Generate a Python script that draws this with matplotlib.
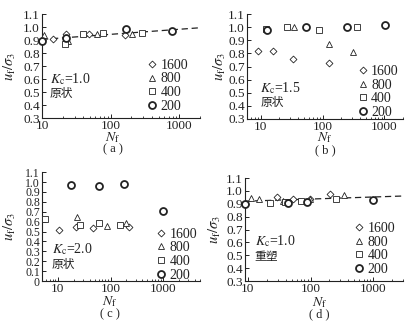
import numpy as np
import matplotlib.pyplot as plt
from matplotlib.ticker import FixedLocator, LogLocator, NullFormatter

plt.rcParams['font.family'] = ['Liberation Serif', 'Noto Sans CJK SC']
plt.rcParams['mathtext.fontset'] = 'stix'

# series labels (confining pressure groups) and their markers
SERIES = ['1600', '800', '400', '200']
MARKERS = ['D', '^', 's', 'o']
MSIZES = [3.5, 4.6, 4.2, 5.0]
MEW = [0.6, 0.6, 0.6, 1.3]

# (a) Kc=1.0, undisturbed
A_N_1600 = [14.5, 22.7, 47.5, 164]
A_U_1600 = [0.91, 0.95, 0.945, 0.94]
A_N_800 = [10.7, 23.5, 63, 202]
A_U_800 = [0.94, 0.89, 0.95, 0.945]
A_N_400 = [21.5, 40, 76, 288]
A_U_400 = [0.87, 0.945, 0.955, 0.955]
A_N_200 = [10, 22.3, 167, 782]
A_U_200 = [0.895, 0.915, 0.985, 0.97]

# (b) Kc=1.5, undisturbed
B_N_1600 = [8.9, 15.6, 33, 125]
B_U_1600 = [0.815, 0.82, 0.76, 0.725]
B_N_800 = [34.2, 127, 310]
B_U_800 = [1.0, 0.87, 0.81]
B_N_400 = [12.3, 26.4, 86, 365]
B_U_400 = [0.985, 1.0, 0.98, 1.0]
B_N_200 = [12.7, 54.4, 251, 1015]
B_U_200 = [0.98, 1.005, 1.0, 1.02]

# (c) Kc=2.0, undisturbed
C_N_1600 = [10.4, 21.8, 46, 220]
C_U_1600 = [0.52, 0.545, 0.535, 0.55]
C_N_800 = [23.4, 87, 199]
C_U_800 = [0.65, 0.555, 0.585]
C_N_400 = [5.6, 26.7, 60, 150]
C_U_400 = [0.63, 0.565, 0.585, 0.565]
C_N_200 = [17.5, 60.4, 180, 970]
C_U_200 = [0.965, 0.955, 0.975, 0.71]

# (d) Kc=1.0, remoulded
D_N_1600 = [29.2, 53.4, 97, 202]
D_U_1600 = [0.955, 0.94, 0.935, 0.975]
D_N_800 = [11.1, 15, 35.8, 97.5, 340]
D_U_800 = [0.945, 0.94, 0.925, 0.94, 0.965]
D_N_400 = [22.9, 38.5, 70, 257]
D_U_400 = [0.91, 0.915, 0.925, 0.935]
D_N_200 = [9, 43.4, 86.6, 1000]
D_U_200 = [0.90, 0.91, 0.915, 0.93]

# trend lines u = a + b*log10(N)
A_FIT = (0.866, 0.039)
D_FIT = (0.905, 0.016)

PANELS = [
    dict(rect=[0.101, 0.6435, 0.380, 0.314], xlim=(10, 2000), ylim=(0.3, 1.1), ysize=9.5,
         data=[(A_N_1600, A_U_1600), (A_N_800, A_U_800), (A_N_400, A_U_400), (A_N_200, A_U_200)],
         fit=A_FIT, kc=r'$K_{\rm c}$=1.0', state='原状', tag='( a )',
         leg=(0.665, 0.57), txt=(0.05, 0.375, 0.235), ylab=-0.155, xlab=(0.45, -0.185, -0.305)),
    dict(rect=[0.594, 0.6405, 0.375, 0.317], xlim=(6, 2000), ylim=(0.3, 1.1), ysize=9.5,
         data=[(B_N_1600, B_U_1600), (B_N_800, B_U_800), (B_N_400, B_U_400), (B_N_200, B_U_200)],
         fit=None, kc=r'$K_{\rm c}$=1.5', state='原状', tag='( b )',
         leg=(0.71, 0.515), txt=(0.085, 0.295, 0.157), ylab=-0.12, xlab=(0.50, -0.18, -0.295)),
    dict(rect=[0.101, 0.151, 0.380, 0.329], xlim=(5, 5000), ylim=(0, 1.1), ysize=8.5,
         data=[(C_N_1600, C_U_1600), (C_N_800, C_U_800), (C_N_400, C_U_400), (C_N_200, C_U_200)],
         fit=None, kc=r'$K_{\rm c}$=2.0', state='原状', tag='( c )',
         leg=(0.725, 0.49), txt=(0.06, 0.295, 0.153), ylab=-0.155, xlab=(0.43, -0.19, -0.305)),
    dict(rect=[0.589, 0.151, 0.380, 0.311], xlim=(9, 3000), ylim=(0.3, 1.1), ysize=9.5,
         data=[(D_N_1600, D_U_1600), (D_N_800, D_U_800), (D_N_400, D_U_400), (D_N_200, D_U_200)],
         fit=D_FIT, kc=r'$K_{\rm c}$=1.0', state='重塑', tag='( d )',
         leg=(0.69, 0.575), txt=(0.06, 0.385, 0.237), ylab=-0.14, xlab=(0.47, -0.205, -0.322)),
]

INK = '#222222'
fig = plt.figure(figsize=(4.16, 3.31), dpi=100)

for p in PANELS:
    ax = fig.add_axes(p['rect'])
    ax.set_xscale('log')
    ax.set_xlim(*p['xlim'])
    ax.set_ylim(*p['ylim'])

    for (n, u), lab, m, ms, mew in zip(p['data'], SERIES, MARKERS, MSIZES, MEW):
        ax.plot(n, u, linestyle='none', marker=m, markersize=ms, markerfacecolor='white',
                markeredgecolor=INK, markeredgewidth=mew, label=lab, clip_on=False, zorder=3)

    if p['fit'] is not None:
        a, b = p['fit']
        xs = np.logspace(np.log10(p['xlim'][0]), np.log10(p['xlim'][1]), 50)
        ax.plot(xs, a + b * np.log10(xs), color=INK, linestyle=(0, (5, 3)), linewidth=0.9, zorder=2)

    # axes styling: left/bottom only, inward ticks
    for s in ['top', 'right']:
        ax.spines[s].set_visible(False)
    for s in ['left', 'bottom']:
        ax.spines[s].set_linewidth(0.8)
        ax.spines[s].set_color(INK)
    yt = np.round(np.arange(p['ylim'][0], p['ylim'][1] + 0.001, 0.1), 1)
    ax.yaxis.set_major_locator(FixedLocator(yt))
    ax.set_yticklabels(['0' if v == 0 else f'{v:.1f}' for v in yt])
    ax.xaxis.set_major_locator(FixedLocator([10, 100, 1000]))
    ax.set_xticklabels(['10', '100', '1000'])
    ax.xaxis.set_minor_locator(LogLocator(base=10, subs=np.arange(2, 10)))
    ax.xaxis.set_minor_formatter(NullFormatter())
    ax.tick_params(which='major', direction='in', length=3, width=0.7, labelsize=9.5,
                   pad=1.5, colors=INK)
    ax.tick_params(axis='y', labelsize=p['ysize'])
    ax.tick_params(which='minor', direction='in', length=1.8, width=0.6, colors=INK)

    ax.set_ylabel(r'$u_{\rm f}/\sigma_3$', fontsize=10.5, color=INK)
    ax.yaxis.set_label_coords(p['ylab'], 0.5)
    ax.text(p['xlab'][0], p['xlab'][1], r'$N_{\rm f}$', transform=ax.transAxes,
            ha='center', va='center', fontsize=10, color=INK)
    ax.text(p['xlab'][0], p['xlab'][2], p['tag'], transform=ax.transAxes,
            ha='center', va='center', fontsize=9, color=INK)

    tx, ty1, ty2 = p['txt']
    ax.text(tx, ty1, p['kc'], transform=ax.transAxes, ha='left', va='center',
            fontsize=10, color=INK)
    ax.text(tx, ty2, p['state'], transform=ax.transAxes, ha='left', va='center',
            fontsize=8.5, color=INK, family=['Noto Sans CJK SC', 'DejaVu Sans'])

    ax.legend(loc='upper left', bbox_to_anchor=p['leg'], frameon=False, fontsize=10,
              handlelength=0.7, handletextpad=0.25, borderpad=0, borderaxespad=0,
              labelspacing=0.05, labelcolor=INK)

fig.savefig('out.png', dpi=100)
